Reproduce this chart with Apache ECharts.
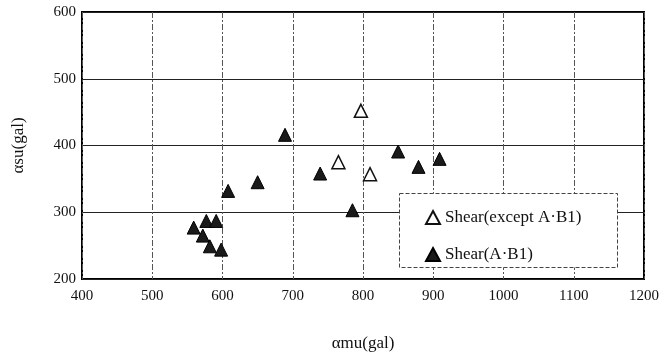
<!DOCTYPE html>
<html>
<head>
<meta charset="utf-8">
<script src="https://cdn.jsdelivr.net/npm/echarts@6/dist/echarts.min.js"></script>
<style>
html, body { margin: 0; padding: 0; background: #fff; }
#chart { width: 666px; height: 357px; }
</style>
</head>
<body>
<div id="chart"></div>
<script>
// amu / asu pairs
var exceptA_B1 = [[797, 452], [765, 375], [810, 357]];
var shearA_B1 = [
	[559, 277], [577, 287], [591, 287], [572, 265], [582, 249], [598, 244],
	[608, 332], [650, 345], [689, 416], [739, 358], [785, 303],
	[850, 391], [879, 368], [909, 380]
];
var xTicks = [400, 1200, 100];
var yTicks = [200, 600, 100];

var chart = echarts.init(document.getElementById('chart'));
var font = '"Liberation Serif", "Times New Roman", serif';
var option = {
	animation: false,
	textStyle: { fontFamily: font },
	grid: {
		left: 82, right: 22, top: 12, bottom: 77,
		show: true,
		borderColor: '#000',
		borderWidth: 2
	},
	graphic: [{
		type: 'rect',
		left: 399, top: 193, z: 90,
		shape: { width: 218, height: 74 },
		style: { fill: '#fff', stroke: '#444', lineWidth: 1, lineDash: [4, 2] }
	}],
	legend: {
		orient: 'vertical',
		left: 420, top: 204,
		itemGap: 20,
		itemWidth: 14, itemHeight: 13,
		z: 100,
		textStyle: { fontFamily: font, fontSize: 17, color: '#111' },
		data: ['Shear(except A\u00b7B1)', 'Shear(A\u00b7B1)']
	},
	xAxis: {
		type: 'value',
		min: xTicks[0], max: xTicks[1], interval: xTicks[2],
		name: '\u03b1mu(gal)',
		nameLocation: 'middle',
		nameGap: 56,
		nameTextStyle: { fontSize: 17, color: '#111', fontFamily: font },
		axisLine: { show: false },
		axisTick: { show: false },
		axisLabel: { fontSize: 15, color: '#111', margin: 10, formatter: function (v) { return String(v); } },
		splitLine: { lineStyle: { color: '#555', width: 1, type: [6, 2, 2, 2] } }
	},
	yAxis: {
		type: 'value',
		min: yTicks[0], max: yTicks[1], interval: yTicks[2],
		name: '\u03b1su(gal)',
		nameLocation: 'middle',
		nameGap: 55,
		nameTextStyle: { fontSize: 17, color: '#111', fontFamily: font },
		axisLine: { show: false },
		axisTick: { show: false },
		axisLabel: { fontSize: 15, color: '#111', margin: 6 },
		splitLine: { lineStyle: { color: '#222', width: 1 } }
	},
	series: [
		{
			name: 'Shear(except A\u00b7B1)',
			type: 'scatter',
			symbol: 'triangle',
			symbolSize: 13,
			itemStyle: { color: '#fff', borderColor: '#111', borderWidth: 1.5, opacity: 1 },
			data: exceptA_B1
		},
		{
			name: 'Shear(A\u00b7B1)',
			type: 'scatter',
			symbol: 'triangle',
			symbolSize: 13,
			itemStyle: { color: '#1a1a1a', borderColor: '#000', borderWidth: 1, opacity: 1 },
			data: shearA_B1
		}
	]
};
chart.setOption(option);
</script>
</body>
</html>
